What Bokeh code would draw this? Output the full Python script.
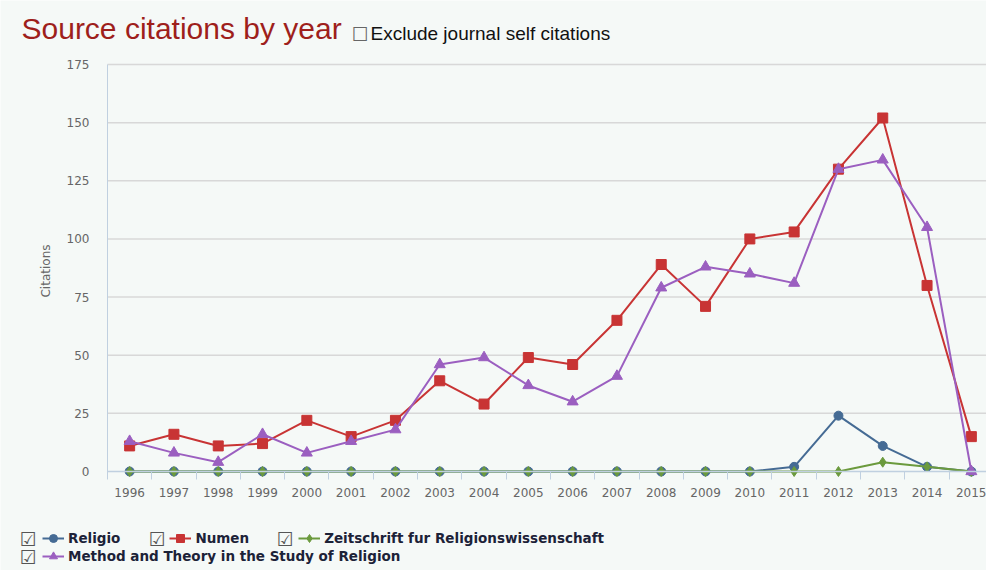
from bokeh.plotting import figure
from bokeh.models import Legend, LegendItem, Label, FixedTicker, Range1d
from bokeh.embed import file_html
from bokeh.resources import INLINE

years = list(range(1996, 2016))
religio = [0, 0, 0, 0, 0, 0, 0, 0, 0, 0, 0, 0, 0, 0, 0, 2, 24, 11, 2, 0]
numen = [11, 16, 11, 12, 22, 15, 22, 39, 29, 49, 46, 65, 89, 71, 100, 103, 130, 152, 80, 15]
zeitschrift = [0, 0, 0, 0, 0, 0, 0, 0, 0, 0, 0, 0, 0, 0, 0, 0, 0, 4, 2, 0]
method = [13, 8, 4, 16, 8, 13, 18, 46, 49, 37, 30, 41, 79, 88, 85, 81, 130, 134, 105, 0]
y_ticks = [0, 25, 50, 75, 100, 125, 150, 175]
series_names = ["Religio", "Numen", "Zeitschrift fur Religionswissenschaft",
                "Method and Theory in the Study of Religion"]

BG = "#f5f9f7"
AXIS = "#c0d0e0"

# plot area: category band edges and value range
X_LO, X_HI = years[0] - 0.5, years[-1] + 0.5
Y_LO, Y_HI = y_ticks[0], y_ticks[-1]
X_VIEW_LO, X_VIEW_HI = 1993.085, 2015.342
Y_VIEW_LO, Y_VIEW_HI = -42.57, 202.52

# canvas = frame; ranges chosen so the plot area sits where the reference has it
p = figure(width=986, height=570, output_backend="svg", toolbar_location=None,
           x_range=Range1d(X_VIEW_LO, X_VIEW_HI), y_range=Range1d(Y_VIEW_LO, Y_VIEW_HI),
           min_border_left=0, min_border_right=0, min_border_top=0,
           min_border_bottom=0)
p.background_fill_color = BG
p.border_fill_color = BG
p.outline_line_color = None
p.xgrid.grid_line_color = None
p.ygrid.grid_line_color = None

# axes fixed at the plot-area edges
xa = p.xaxis[0]
xa.fixed_location = Y_LO
xa.bounds = (X_LO, X_HI)
xa.ticker = FixedTicker(ticks=years, minor_ticks=[y - 0.5 for y in years] + [X_HI])
xa.axis_line_color = AXIS
xa.axis_line_width = 1.5
xa.major_tick_line_color = None
xa.major_tick_out = 0
xa.major_tick_in = 0
xa.minor_tick_line_color = AXIS
xa.minor_tick_out = 8
xa.minor_tick_in = 0
xa.major_label_standoff = 9
xa.major_label_text_font = "DejaVu Sans"
xa.major_label_text_font_size = "12px"
xa.major_label_text_color = "#666666"

ya = p.yaxis[0]
ya.fixed_location = X_LO
ya.bounds = (-2.6, Y_HI)
ya.ticker = FixedTicker(ticks=y_ticks)
ya.axis_line_color = AXIS
ya.major_tick_line_color = None
ya.minor_tick_line_color = None
ya.major_tick_out = 0
ya.major_tick_in = 0
ya.major_label_standoff = 18
ya.major_label_text_font = "DejaVu Sans"
ya.major_label_text_font_size = "12px"
ya.major_label_text_color = "#666666"
ya.axis_label = "Citations"
ya.axis_label_text_font = "DejaVu Sans"
ya.axis_label_text_font_size = "12px"
ya.axis_label_text_font_style = "normal"
ya.axis_label_text_color = "#666666"
ya.axis_label_standoff = 11

# horizontal grid lines across the plot area only
grid_y = y_ticks[1:]
p.segment(x0=[X_LO] * len(grid_y), x1=[X_VIEW_HI] * len(grid_y), y0=grid_y, y1=grid_y,
          line_color="#d8d8d8", line_width=1.5, level="underlay")

colors = ["#456b94", "#c83434", "#6b9a3d", "#9b5fc0"]
data = [religio, numen, zeitschrift, method]
markers = ["circle", "square", "diamond", "triangle"]
sizes = [9, 10, 10, 11]

items = []
for name, vals, col, mk, sz in zip(series_names, data, colors, markers, sizes):
    ln = p.line(years, vals, line_color=col, line_width=2)
    sc = p.scatter(years, vals, marker=mk, size=sz, fill_color=col, line_color=col)
    items.append(LegendItem(label=name, renderers=[ln, sc]))


def make_legend(its, loc):
    return Legend(items=its, location=loc, orientation="horizontal",
                  glyph_width=22, glyph_height=20, label_standoff=4, spacing=49,
                  padding=0, margin=0, border_line_color=None,
                  background_fill_alpha=0, label_text_font="DejaVu Sans",
                  label_text_font_style="bold", label_text_font_size="13.5px",
                  label_text_color="#1c2238", label_height=20)


p.add_layout(make_legend(items[:3], (42, 22)))
p.add_layout(make_legend(items[3:], (42, 4)))

# checkboxes for legend items
for cx, cy in [(19, 32), (148, 32), (276, 32), (19, 14)]:
    p.add_layout(Label(x=cx, y=cy, x_units="screen", y_units="screen", text="\u2611",
                       text_font="DejaVu Sans", text_font_size="19px",
                       text_color="#555555", text_baseline="middle"))

# title and checkbox
p.add_layout(Label(x=21, y=542, x_units="screen", y_units="screen",
                   text="Source citations by year", text_font="Liberation Sans",
                   text_font_size="30px", text_color="#9e1f1c",
                   text_baseline="alphabetic"))
p.add_layout(Label(x=351, y=537, x_units="screen", y_units="screen", text="\u2610",
                   text_font="DejaVu Sans", text_font_size="19px",
                   text_color="#666666", text_baseline="middle"))
p.add_layout(Label(x=370, y=537, x_units="screen", y_units="screen",
                   text="Exclude journal self citations", text_font="Liberation Sans",
                   text_font_size="19px", text_color="#111111",
                   text_baseline="alphabetic"))

open("out.html", "w").write(file_html(p, INLINE))
